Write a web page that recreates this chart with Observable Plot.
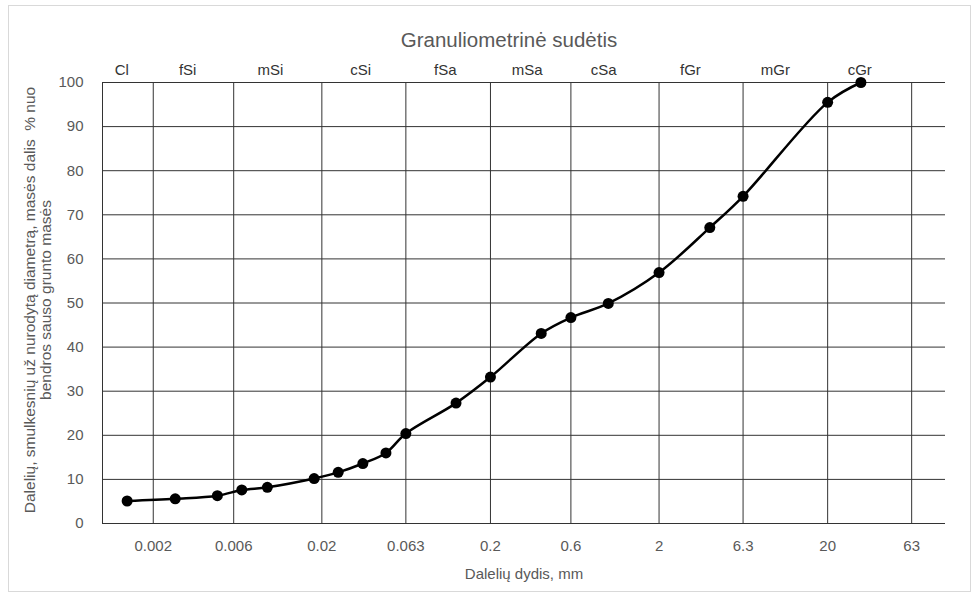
<!DOCTYPE html>
<html>
<head>
<meta charset="utf-8">
<script src="https://cdn.jsdelivr.net/npm/d3@7"></script>
<script src="https://cdn.jsdelivr.net/npm/@observablehq/plot@0.6"></script>
<style>
  html, body { margin: 0; padding: 0; background: #fff; }
  #wrap { position: relative; width: 978px; height: 596px; overflow: hidden; }
  #border { position: absolute; left: 8px; top: 5px; width: 961px; height: 585px; border: 1px solid #d9d9d9; pointer-events: none; }
  #chart { position: absolute; left: 0; top: 0; }
</style>
</head>
<body>
<div id="wrap"><div id="chart"></div><div id="border"></div></div>
<script>
// Particle size (mm) and percent passing
const sizes   = [0.0014, 0.0027, 0.0048, 0.0067, 0.0095, 0.018, 0.025, 0.035, 0.048, 0.063,
                 0.125, 0.2, 0.4, 0.6, 1, 2, 4, 6.3, 20, 31.5];
const passing = [5.1, 5.6, 6.3, 7.6, 8.2, 10.2, 11.6, 13.6, 16.0, 20.4,
                 27.3, 33.2, 43.1, 46.7, 49.9, 56.9, 67.1, 74.2, 95.5, 100];

const xTicks = [0.002, 0.006, 0.02, 0.063, 0.2, 0.6, 2, 6.3, 20, 63];
const xTickLabels = ["0.002", "0.006", "0.02", "0.063", "0.2", "0.6", "2", "6.3", "20", "63"];
const yTicks = [0, 10, 20, 30, 40, 50, 60, 70, 80, 90, 100];

const fractionNames = ["Cl", "fSi", "mSi", "cSi", "fSa", "mSa", "cSa", "fGr", "mGr", "cGr"];
const fractionX     = [0.0013, 0.0032, 0.0099, 0.034, 0.108, 0.33, 0.94, 3.07, 9.8, 31];

const title  = "Granuliometrinė sudėtis";
const xLabel = "Dalelių dydis, mm";
const yLabel = "Dalelių, smulkesnių už nurodytą diametrą, masės dalis  % nuo\nbendros sauso grunto masės";

const data = sizes.map((s, i) => ({size: s, pct: passing[i]}));
const fractions = fractionNames.map((n, i) => ({name: n, x: fractionX[i]}));
const xTickData = xTicks.map((v, i) => ({v, label: xTickLabels[i]}));

const gridColor = "#333";
const textColor = "#595959";

const chart = Plot.plot({
  width: 978,
  height: 596,
  marginLeft: 102,
  marginRight: 33,
  marginTop: 82,
  marginBottom: 73,
  style: {fontFamily: "'Liberation Sans', Arial, sans-serif", fontSize: "15px", color: textColor, background: "transparent"},
  x: {type: "log", domain: [0.001, 100], axis: null},
  y: {domain: [0, 100]},
  marks: [
    Plot.gridX(xTicks, {stroke: gridColor, strokeOpacity: 1}),
    Plot.gridY(yTicks, {stroke: gridColor, strokeOpacity: 1}),
    Plot.ruleX([0.001], {stroke: gridColor}),
    Plot.ruleY([0], {stroke: gridColor}),
    Plot.text(xTickData, {x: "v", text: "label", frameAnchor: "bottom", dy: 27, fontSize: 15, fill: textColor}),
    Plot.axisY(yTicks, {tickSize: 0, tickPadding: 19, label: null, fontSize: 15, fill: textColor}),
    Plot.line(data, {x: "size", y: "pct", curve: "catmull-rom", stroke: "black", strokeWidth: 2.5}),
    Plot.dot(data, {x: "size", y: "pct", r: 5.5, fill: "black", stroke: "none"}),
    Plot.text(fractions, {x: "x", y: () => 102.8, text: "name", fontSize: 15, fill: "#333"}),
    Plot.text([title], {frameAnchor: "top", dx: -15, dy: -50, fontSize: 20.5, fill: textColor}),
    Plot.text([xLabel], {frameAnchor: "bottom", dy: 55, fontSize: 15, fill: textColor}),
    Plot.text([yLabel], {frameAnchor: "left", textAnchor: "middle", rotate: -90, dx: -65, dy: -3, lineHeight: 1.05, fontSize: 15.5, fill: textColor})
  ]
});
document.getElementById("chart").appendChild(chart);
</script>
</body>
</html>
